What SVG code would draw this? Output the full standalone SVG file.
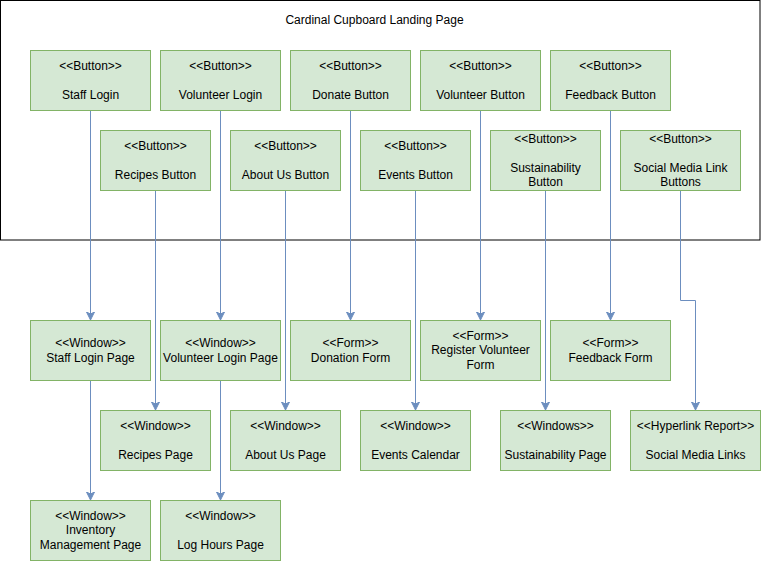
<svg xmlns="http://www.w3.org/2000/svg" width="761" height="561" viewBox="0 0 761 561">
<defs>
<style>
.n rect{fill:#d5e8d4;stroke:#82b366;stroke-width:1}
text{font-family:"Liberation Sans",Arial,Helvetica,sans-serif;font-size:12px;fill:#000;text-anchor:middle}
.c path{fill:none;stroke:#6c8ebf;stroke-width:1;marker-end:url(#arr)}
</style>
<marker id="arr" markerUnits="userSpaceOnUse" markerWidth="10" markerHeight="10" refX="8" refY="4" orient="auto">
<path d="M0,0 L8,4 L0,8 L2,4 Z" fill="#6c8ebf" stroke="#6c8ebf" stroke-width="1"/>
</marker>
</defs>
<rect width="761" height="561" fill="#fff"/>
<g id="container">
<rect x="0.5" y="0.5" width="759.5" height="239.5" fill="#fff" stroke="#000" stroke-width="1"/>
<text x="374.5" y="23.5">Cardinal Cupboard Landing Page</text>
</g>
<g class="c" id="connectors">
<path d="M90.5,110 V320"/>
<path d="M220.5,110 V320"/>
<path d="M350.5,110 V320"/>
<path d="M480.5,110 V320"/>
<path d="M610.5,110 V320"/>
<path d="M155.5,190 V410"/>
<path d="M285.5,190 V410"/>
<path d="M415.5,190 V410"/>
<path d="M545.5,190 V410"/>
<path d="M680.5,190 V300.5 H695.5 V410"/>
<path d="M90.5,380 V500"/>
<path d="M220.5,380 V500"/>
</g>
<g class="n" id="btn-staff"><rect x="30.5" y="50.5" width="120" height="60"/><text x="90.5" y="69.5">&lt;&lt;Button&gt;&gt;</text><text x="90.5" y="98.5">Staff Login</text></g>
<g class="n" id="btn-volunteer-login"><rect x="160.5" y="50.5" width="120" height="60"/><text x="220.5" y="69.5">&lt;&lt;Button&gt;&gt;</text><text x="220.5" y="98.5">Volunteer Login</text></g>
<g class="n" id="btn-donate"><rect x="290.5" y="50.5" width="120" height="60"/><text x="350.5" y="69.5">&lt;&lt;Button&gt;&gt;</text><text x="350.5" y="98.5">Donate Button</text></g>
<g class="n" id="btn-volunteer"><rect x="420.5" y="50.5" width="120" height="60"/><text x="480.5" y="69.5">&lt;&lt;Button&gt;&gt;</text><text x="480.5" y="98.5">Volunteer Button</text></g>
<g class="n" id="btn-feedback"><rect x="550.5" y="50.5" width="120" height="60"/><text x="610.5" y="69.5">&lt;&lt;Button&gt;&gt;</text><text x="610.5" y="98.5">Feedback Button</text></g>
<g class="n" id="btn-recipes"><rect x="100.5" y="130.5" width="110" height="60"/><text x="155.5" y="149.5">&lt;&lt;Button&gt;&gt;</text><text x="155.5" y="178.5">Recipes Button</text></g>
<g class="n" id="btn-about"><rect x="230.5" y="130.5" width="110" height="60"/><text x="285.5" y="149.5">&lt;&lt;Button&gt;&gt;</text><text x="285.5" y="178.5">About Us Button</text></g>
<g class="n" id="btn-events"><rect x="360.5" y="130.5" width="110" height="60"/><text x="415.5" y="149.5">&lt;&lt;Button&gt;&gt;</text><text x="415.5" y="178.5">Events Button</text></g>
<g class="n" id="btn-sustain"><rect x="490.5" y="130.5" width="110" height="60"/><text x="545.5" y="142.5">&lt;&lt;Button&gt;&gt;</text><text x="545.5" y="171.5">Sustainability</text><text x="545.5" y="185.5">Button</text></g>
<g class="n" id="btn-social"><rect x="620.5" y="130.5" width="120" height="60"/><text x="680.5" y="142.5">&lt;&lt;Button&gt;&gt;</text><text x="680.5" y="171.5">Social Media Link</text><text x="680.5" y="185.5">Buttons</text></g>
<g class="n" id="win-staff"><rect x="30.5" y="320.5" width="120" height="60"/><text x="90.5" y="346.5">&lt;&lt;Window&gt;&gt;</text><text x="90.5" y="361.5">Staff Login Page</text></g>
<g class="n" id="win-volunteer-login"><rect x="160.5" y="320.5" width="120" height="60"/><text x="220.5" y="346.5">&lt;&lt;Window&gt;&gt;</text><text x="220.5" y="361.5">Volunteer Login Page</text></g>
<g class="n" id="form-donation"><rect x="290.5" y="320.5" width="120" height="60"/><text x="350.5" y="346.5">&lt;&lt;Form&gt;&gt;</text><text x="350.5" y="361.5">Donation Form</text></g>
<g class="n" id="form-volunteer"><rect x="420.5" y="320.5" width="120" height="60"/><text x="480.5" y="339.5">&lt;&lt;Form&gt;&gt;</text><text x="480.5" y="354">Register Volunteer</text><text x="480.5" y="368.5">Form</text></g>
<g class="n" id="form-feedback"><rect x="550.5" y="320.5" width="120" height="60"/><text x="610.5" y="346.5">&lt;&lt;Form&gt;&gt;</text><text x="610.5" y="361.5">Feedback Form</text></g>
<g class="n" id="win-recipes"><rect x="100.5" y="410.5" width="110" height="60"/><text x="155.5" y="429.5">&lt;&lt;Window&gt;&gt;</text><text x="155.5" y="458.5">Recipes Page</text></g>
<g class="n" id="win-about"><rect x="230.5" y="410.5" width="110" height="60"/><text x="285.5" y="429.5">&lt;&lt;Window&gt;&gt;</text><text x="285.5" y="458.5">About Us Page</text></g>
<g class="n" id="win-events"><rect x="360.5" y="410.5" width="110" height="60"/><text x="415.5" y="429.5">&lt;&lt;Window&gt;&gt;</text><text x="415.5" y="458.5">Events Calendar</text></g>
<g class="n" id="win-sustain"><rect x="500.5" y="410.5" width="110" height="60"/><text x="555.5" y="429.5">&lt;&lt;Windows&gt;&gt;</text><text x="555.5" y="458.5">Sustainability Page</text></g>
<g class="n" id="hyper-social"><rect x="630.5" y="410.5" width="130" height="60"/><text x="695.5" y="429.5">&lt;&lt;Hyperlink Report&gt;&gt;</text><text x="695.5" y="458.5">Social Media Links</text></g>
<g class="n" id="win-inventory"><rect x="30.5" y="500.5" width="120" height="60"/><text x="90.5" y="519.5">&lt;&lt;Window&gt;&gt;</text><text x="90.5" y="534">Inventory</text><text x="90.5" y="548.5">Management Page</text></g>
<g class="n" id="win-loghours"><rect x="160.5" y="500.5" width="120" height="60"/><text x="220.5" y="519.5">&lt;&lt;Window&gt;&gt;</text><text x="220.5" y="548.5">Log Hours Page</text></g>
</svg>
